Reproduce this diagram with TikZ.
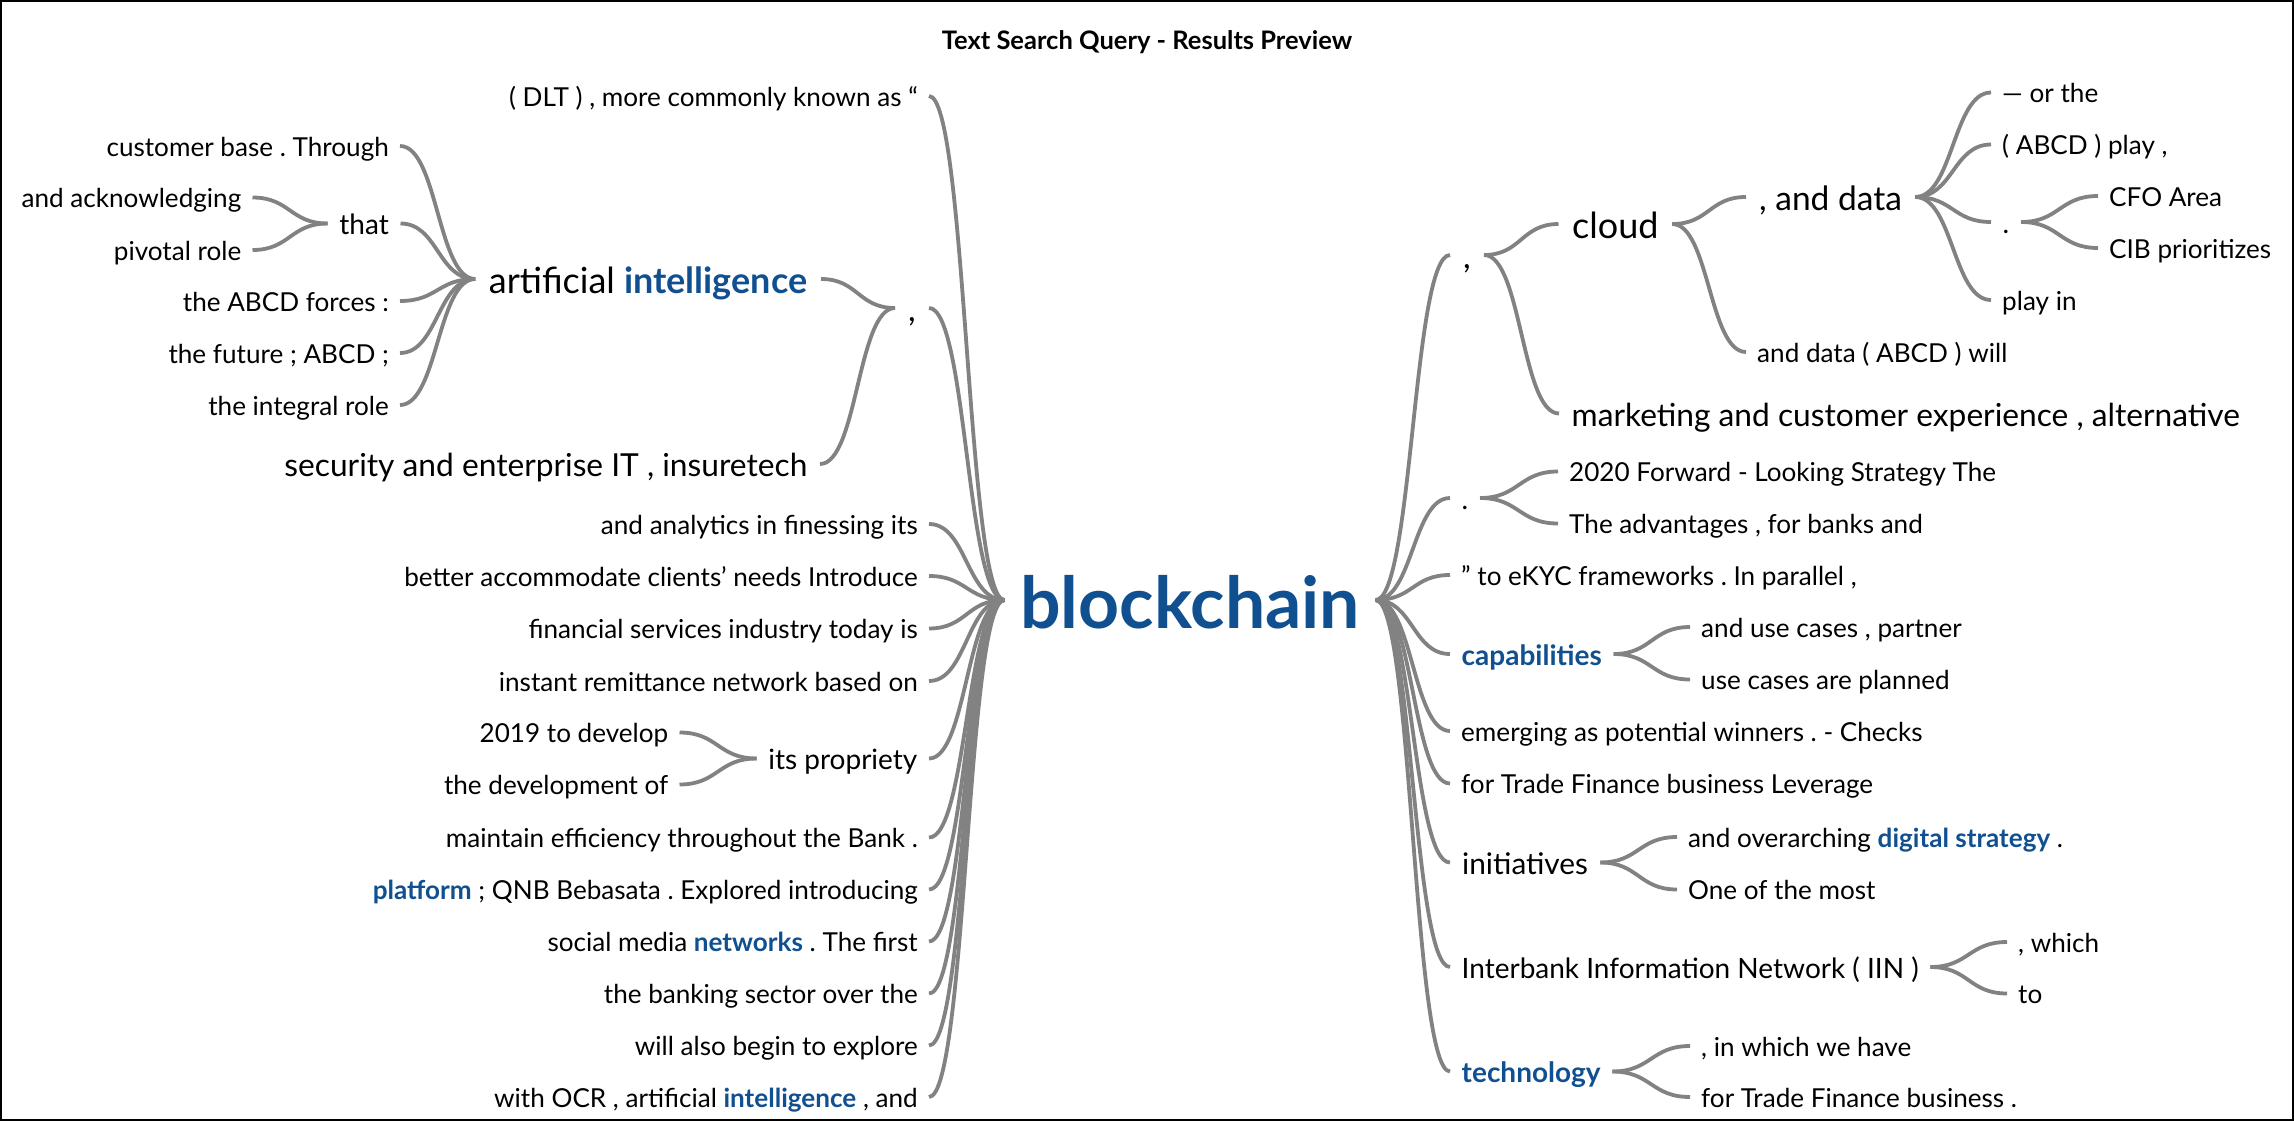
\documentclass[tikz,border=0pt]{standalone}
\usepackage{fontspec}
\setmainfont{Lato}
\usetikzlibrary{calc}
\definecolor{kwblue}{RGB}{16,80,144}
\definecolor{linkgray}{RGB}{130,130,130}
\newcommand\kw[1]{{\color{kwblue}\bfseries #1}}
\frenchspacing
\tikzset{
  every node/.style={inner ysep=0pt, text depth=0pt},
  leaf/.style={font=\fontsize{26.1}{28}\selectfont, text height=20.9pt, inner xsep=11pt},
  fsA/.style={font=\fontsize{28}{30}\selectfont, text height=22.4pt, inner xsep=11.5pt},
  fsB/.style={font=\fontsize{29.8}{32}\selectfont, text height=23.8pt, inner xsep=12pt},
  fsC/.style={font=\fontsize{31.7}{34}\selectfont, text height=25.4pt, inner xsep=12.5pt},
  fsD/.style={font=\fontsize{33.5}{36}\selectfont, text height=26.8pt, inner xsep=13pt},
  fsE/.style={font=\fontsize{36}{38}\selectfont, text height=28.8pt, inner xsep=13.5pt},
  hub/.style={font=\bfseries\fontsize{71.5}{74}\selectfont, text height=56pt, inner xsep=15.5pt, text=kwblue},
  lt/.style={anchor=east},
  rt/.style={anchor=west},
  link/.style={draw=linkgray, line width=3.8pt, to path={
    let \p1=(\tikztostart), \p2=(\tikztotarget), \n1={(\x1+\x2)/2} in
    .. controls ({\n1*1pt},\y1) and ({\n1*1pt},\y2) .. (\tikztotarget)}}
}
\begin{document}
\begin{tikzpicture}[x=1pt,y=-1pt]
\useasboundingbox (0,0) rectangle (2294,1121);
\draw[line width=2pt] (1,1) rectangle (2293,1120);

\node[font=\bfseries\fontsize{25.5}{27}\selectfont] (title) at (1147,40) {Text Search Query - Results Preview};

% hub
\node[hub] (bc) at (1190,600) {blockchain};

% ---- left branch ----
\node[leaf,lt] (dlt) at (929,96) {( DLT ) , more commonly known as “};
\node[fsD,lt] (lcomma) at (929,308) {,};
\node[leaf,lt] (l3) at (929,524) {and analytics in finessing its};
\node[leaf,lt] (l4) at (929,576) {better accommodate clients’ needs Introduce};
\node[leaf,lt] (l5) at (929,628.5) {financial services industry today is};
\node[leaf,lt] (l6) at (929,681) {instant remittance network based on};
\node[fsA,lt] (prop) at (929,758.5) {its propriety};
\node[leaf,lt] (l8) at (929,837.5) {maintain efficiency throughout the Bank .};
\node[leaf,lt] (l9) at (929,889.5) {\kw{platform} ; QNB Bebasata . Explored introducing};
\node[leaf,lt] (l10) at (929,941.5) {social media \kw{networks} . The first};
\node[leaf,lt] (l11) at (929,993.5) {the banking sector over the};
\node[leaf,lt] (l12) at (929,1045.5) {will also begin to explore};
\node[leaf,lt] (l13) at (929,1097) {with OCR , artificial \kw{intelligence} , and};

\node[leaf,lt] (p1) at (679.5,732.5) {2019 to develop};
\node[leaf,lt] (p2) at (679.5,784.5) {the development of};

\node[fsE,lt] (ai) at (821,279) {artificial \kw{intelligence}};
\node[fsC,lt] (sec) at (820,464) {security and enterprise IT , insuretech};

\node[leaf,lt] (cust) at (400,146) {customer base . Through};
\node[fsA,lt] (that) at (400.5,223.5) {that};
\node[leaf,lt] (forces) at (400,301) {the ABCD forces :};
\node[leaf,lt] (future) at (400,353) {the future ; ABCD ;};
\node[leaf,lt] (integral) at (400,405) {the integral role};

\node[leaf,lt] (ack) at (252.5,197.5) {and acknowledging};
\node[leaf,lt] (pivot) at (252.5,250) {pivotal role};

% ---- right branch ----
\node[fsD,rt] (rcomma) at (1450,255) {,};
\node[fsA,rt] (rdot) at (1450,498) {.};
\node[leaf,rt] (ekyc) at (1450,575) {” to eKYC frameworks . In parallel ,};
\node[fsA,rt] (cap) at (1450,654) {\kw{capabilities}};
\node[leaf,rt] (emerg) at (1450,731) {emerging as potential winners . - Checks};
\node[leaf,rt] (trade) at (1450,783.5) {for Trade Finance business Leverage};
\node[fsB,rt] (init) at (1450,862.5) {initiatives};
\node[fsA,rt] (iin) at (1450,967) {Interbank Information Network ( IIN )};
\node[fsA,rt] (tech) at (1450,1071.5) {\kw{technology}};

\node[fsE,rt] (cloud) at (1558.5,224) {cloud};
\node[fsC,rt] (mkt) at (1559,413.5) {marketing and customer experience , alternative};

\node[fsD,rt] (anddata) at (1746,197) {, and data};
\node[leaf,rt] (adwill) at (1746,352) {and data ( ABCD ) will};

\node[leaf,rt] (orthe) at (1991,92.5) {— or the};
\node[leaf,rt] (abcd) at (1991,144.5) {( ABCD ) play ,};
\node[fsA,rt] (dot2) at (1991,222) {.};
\node[leaf,rt] (playin) at (1991,300) {play in};

\node[leaf,rt] (cfo) at (2098,196) {CFO Area};
\node[leaf,rt] (cib) at (2098,248) {CIB prioritizes};

\node[leaf,rt] (fwd) at (1558,471.5) {2020 Forward - Looking Strategy The};
\node[leaf,rt] (adv) at (1558,523.5) {The advantages , for banks and};

\node[leaf,rt] (usec) at (1690,627) {and use cases , partner};
\node[leaf,rt] (plan) at (1690,679.5) {use cases are planned};

\node[leaf,rt] (over) at (1677,837) {and overarching \kw{digital strategy} .};
\node[leaf,rt] (most) at (1677,889.5) {One of the most};

\node[leaf,rt] (which) at (2007,942) {, which};
\node[leaf,rt] (to) at (2007,993.5) {to};

\node[leaf,rt] (wehave) at (1690,1046) {, in which we have};
\node[leaf,rt] (tfb) at (1690,1097) {for Trade Finance business .};

% ---- connectors ----
\foreach \c in {dlt,lcomma,l3,l4,l5,l6,prop,l8,l9,l10,l11,l12,l13}
  \draw[link] (bc.west) to (\c.east);
\foreach \c in {p1,p2} \draw[link] (prop.west) to (\c.east);
\foreach \c in {ai,sec} \draw[link] (lcomma.west) to (\c.east);
\foreach \c in {cust,that,forces,future,integral} \draw[link] (ai.west) to (\c.east);
\foreach \c in {ack,pivot} \draw[link] (that.west) to (\c.east);

\foreach \c in {rcomma,rdot,ekyc,cap,emerg,trade,init,iin,tech}
  \draw[link] (bc.east) to (\c.west);
\foreach \c in {cloud,mkt} \draw[link] (rcomma.east) to (\c.west);
\foreach \c in {anddata,adwill} \draw[link] (cloud.east) to (\c.west);
\foreach \c in {orthe,abcd,dot2,playin} \draw[link] (anddata.east) to (\c.west);
\foreach \c in {cfo,cib} \draw[link] (dot2.east) to (\c.west);
\foreach \c in {fwd,adv} \draw[link] (rdot.east) to (\c.west);
\foreach \c in {usec,plan} \draw[link] (cap.east) to (\c.west);
\foreach \c in {over,most} \draw[link] (init.east) to (\c.west);
\foreach \c in {which,to} \draw[link] (iin.east) to (\c.west);
\foreach \c in {wehave,tfb} \draw[link] (tech.east) to (\c.west);
\end{tikzpicture}
\end{document}
